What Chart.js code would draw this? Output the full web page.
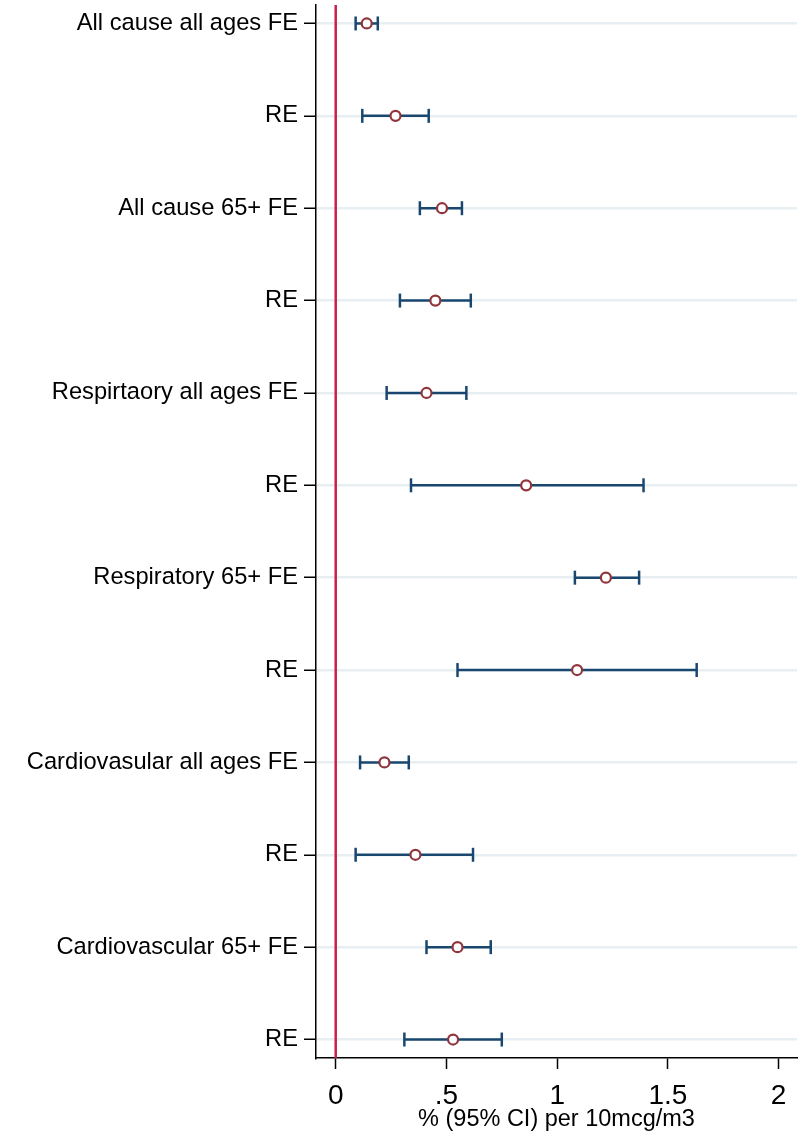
<!DOCTYPE html>
<html>
<head>
<meta charset="utf-8">
<script src="https://cdn.jsdelivr.net/npm/chart.js@4.4.1/dist/chart.umd.min.js"></script>
<style>
  html, body { margin: 0; padding: 0; background: #fff; }
  #wrap { width: 798px; height: 1134px; }
</style>
</head>
<body>
<div id="wrap"><canvas id="forest" width="798" height="1134"></canvas></div>
<script>
const rowLabels = [
  'All cause all ages FE', 'RE',
  'All cause 65+ FE', 'RE',
  'Respirtaory all ages FE', 'RE',
  'Respiratory 65+ FE', 'RE',
  'Cardiovasular all ages FE', 'RE',
  'Cardiovascular 65+ FE', 'RE'
];
const estimates = [0.14, 0.27, 0.48, 0.45, 0.41, 0.86, 1.22, 1.09, 0.22, 0.36, 0.55, 0.53];
const lower     = [0.09, 0.12, 0.38, 0.29, 0.23, 0.34, 1.08, 0.55, 0.11, 0.09, 0.41, 0.31];
const upper     = [0.19, 0.42, 0.57, 0.61, 0.59, 1.39, 1.37, 1.63, 0.33, 0.62, 0.70, 0.75];
const xTicks = [0, 0.5, 1, 1.5, 2];
const xTitle = '% (95% CI) per 10mcg/m3';

const NAVY = '#1a476f';
const MAROON = '#90353b';
const REFLINE = '#cc1f4a';
const GRID = '#e8eff2';
const FONT = 'Liberation Sans, Arial, sans-serif';

const rows = rowLabels.map((_, i) => i + 1);

// one short line per row for the interval, with vertical caps at both ends
const ciSets = rows.map((y, i) => ({
  type: 'line',
  data: [{ x: lower[i], y }, { x: upper[i], y }],
  borderColor: NAVY,
  borderWidth: 2.5,
  pointStyle: 'line',
  rotation: 90,
  pointRadius: 7,
  pointBorderWidth: 2.5,
  pointBorderColor: NAVY,
  pointHoverRadius: 7,
  order: 2
}));

const pointSet = {
  type: 'scatter',
  data: rows.map((y, i) => ({ x: estimates[i], y })),
  pointStyle: 'circle',
  pointRadius: 5,
  pointBorderWidth: 2.2,
  pointBorderColor: MAROON,
  pointBackgroundColor: '#fff',
  order: 1
};

const refLine = {
  type: 'line',
  data: [{ x: 0, y: 0.8 }, { x: 0, y: 12.2 }],
  borderColor: REFLINE,
  borderWidth: 2.5,
  pointRadius: 0,
  order: 3
};

// drop the label overhang padding so the plot box sits where we put it
function noOverhang(s) {
  s.paddingTop = 0;
  s.paddingBottom = 0;
  s.paddingLeft = 0;
  s.paddingRight = 0;
}

new Chart(document.getElementById('forest'), {
  type: 'scatter',
  data: { datasets: [refLine, ...ciSets, pointSet] },
  options: {
    responsive: false,
    animation: false,
    events: [],
    layout: { autoPadding: false, padding: { top: 5, right: 1, left: 0, bottom: 0 } },
    plugins: { legend: { display: false }, tooltip: { enabled: false } },
    scales: {
      x: {
        type: 'linear',
        min: -0.089,
        max: 2.083,
        afterBuildTicks: s => { s.ticks = xTicks.map(v => ({ value: v })); },
        afterFit: s => { s.height = 76; noOverhang(s); },
        ticks: {
          color: '#000',
          font: { family: FONT, size: 28 },
          padding: 10,
          maxRotation: 0,
          callback: v => (v === 0 ? '0' : String(v).replace(/^0\./, '.'))
        },
        grid: { drawOnChartArea: false, tickLength: 11, tickColor: '#000', tickWidth: 1.5 },
        border: { color: '#000', width: 1.5 },
        title: {
          display: true,
          text: xTitle,
          color: '#000',
          font: { family: FONT, size: 23.5 },
          padding: { top: 0, bottom: 0 }
        }
      },
      y: {
        type: 'linear',
        reverse: true,
        min: 0.8,
        max: 12.2,
        afterBuildTicks: s => { s.ticks = rows.map(v => ({ value: v })); },
        afterFit: s => { s.width = 316; noOverhang(s); },
        ticks: {
          color: '#000',
          font: { family: FONT, size: 23.7 },
          padding: 6,
          autoSkip: false,
          callback: v => rowLabels[v - 1]
        },
        grid: { color: GRID, lineWidth: 2.5, tickLength: 12, tickColor: '#000', tickWidth: 1.5 },
        border: { color: '#000', width: 1.5 }
      }
    }
  }
});
</script>
</body>
</html>
